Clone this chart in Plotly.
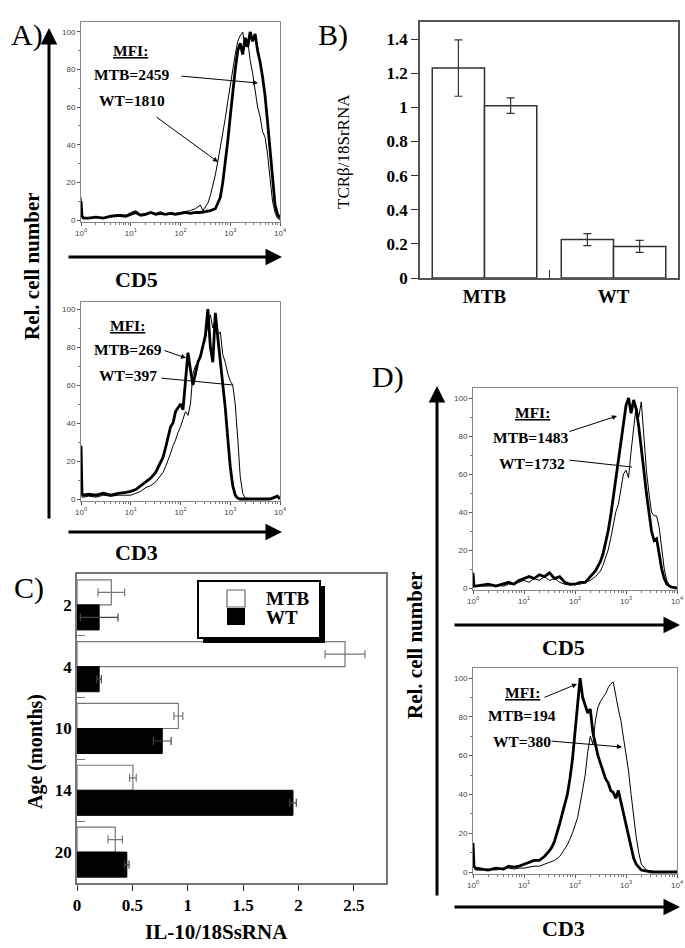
import math
import plotly.graph_objects as go

W, H = 685, 948
SERIF = "Liberation Serif"
SANS = "Liberation Sans"

# ---------------- data ----------------
# Panel A (top): CD5 histograms, x = log10(fluorescence), y = rel. cell number
a_cd5_mtb_x = [0.0, 0.02, 0.05, 0.15, 0.3, 0.45, 0.6, 0.75, 0.9, 1.0, 1.1, 1.2, 1.3, 1.4, 1.5, 1.6, 1.7, 1.8, 1.9, 2.0,
               2.1, 2.2, 2.3, 2.4, 2.5, 2.6, 2.7, 2.8, 2.85, 2.9, 2.95, 3.0, 3.05, 3.1, 3.15, 3.2, 3.25, 3.3, 3.35, 3.4,
               3.45, 3.5, 3.55, 3.6, 3.65, 3.7, 3.75, 3.8, 3.85, 3.9, 3.95, 4.0]
a_cd5_mtb_y = [10, 2, 1, 1, 1.5, 1, 2, 2.5, 2, 3, 4, 2.5, 3, 4, 3, 3.5, 3, 3.5, 3, 3.5,
               4, 3.5, 4, 4, 4.5, 5, 6, 12, 20, 30, 42, 55, 68, 80, 90, 94, 88, 97, 92, 100,
               95, 99, 90, 84, 76, 66, 52, 36, 20, 8, 3, 1]
a_cd5_wt_x = [0.0, 0.02, 0.05, 0.15, 0.3, 0.45, 0.6, 0.75, 0.9, 1.0, 1.1, 1.2, 1.3, 1.4, 1.5, 1.6, 1.7, 1.8, 1.9, 2.0,
              2.1, 2.2, 2.3, 2.4, 2.45, 2.5, 2.55, 2.6, 2.65, 2.7, 2.75, 2.8, 2.85, 2.9, 2.95, 3.0, 3.05, 3.1, 3.15, 3.2,
              3.25, 3.3, 3.35, 3.4, 3.45, 3.5, 3.55, 3.6, 3.65, 3.7, 3.75, 3.8, 3.85, 3.9, 3.95, 4.0]
a_cd5_wt_y = [12, 3, 1, 1, 1.5, 1, 2, 3, 2.5, 4, 5, 3, 3.5, 4, 3.5, 4.5, 3, 4, 3.5, 4,
              4.5, 5, 6, 8, 5, 7, 9, 13, 18, 24, 31, 38, 46, 54, 63, 72, 80, 88, 95, 98,
              100, 92, 96, 85, 78, 70, 60, 55, 47, 44, 35, 22, 10, 4, 1, 0]

# Panel A (bottom): CD3 histograms
a_cd3_mtb_x = [0.0, 0.02, 0.05, 0.15, 0.3, 0.45, 0.6, 0.75, 0.9, 1.0, 1.1, 1.2, 1.3, 1.4, 1.5, 1.6,
               1.65, 1.7, 1.75, 1.8, 1.85, 1.9, 1.95, 2.0, 2.05, 2.1, 2.15, 2.2, 2.25, 2.3, 2.35, 2.4,
               2.45, 2.5, 2.55, 2.6, 2.65, 2.7, 2.75, 2.8, 2.85, 2.9, 2.95, 3.0, 3.05, 3.1, 3.15, 3.2,
               3.4, 3.6, 3.8, 3.9, 3.95, 4.0]
a_cd3_mtb_y = [28, 3, 2, 2.5, 2, 3, 2, 3, 3.5, 4, 5, 7, 9, 11, 14, 19,
               22, 27, 32, 38, 40, 46, 48, 50, 47, 62, 77, 68, 60, 66, 72, 75,
               80, 86, 100, 80, 72, 98, 85, 72, 62, 48, 32, 17, 7, 2, 0.5, 0,
               0, 0, 0, 1, 1.5, 0]
a_cd3_wt_x = [0.0, 0.02, 0.05, 0.15, 0.3, 0.45, 0.6, 0.75, 0.9, 1.0, 1.1, 1.2, 1.3, 1.4, 1.5, 1.6,
              1.65, 1.7, 1.75, 1.8, 1.85, 1.9, 1.95, 2.0, 2.05, 2.1, 2.15, 2.2, 2.25, 2.3, 2.35, 2.4,
              2.45, 2.5, 2.55, 2.6, 2.65, 2.7, 2.75, 2.8, 2.85, 2.9, 2.95, 3.0, 3.05, 3.1, 3.15, 3.2,
              3.25, 3.3, 3.5, 3.8, 3.9, 3.95, 4.0]
a_cd3_wt_y = [5, 1, 1, 1.5, 1, 2, 1.5, 2, 2, 2, 3, 4, 6, 7, 9, 12,
              14, 17, 20, 24, 28, 31, 35, 38, 42, 46, 44, 50, 66, 70, 72, 76,
              80, 84, 92, 97, 90, 94, 86, 88, 76, 72, 66, 62, 60, 50, 32, 12,
              3, 0.5, 0, 0, 1, 1.5, 0]

# Panel D (top): CD5 histograms
d_cd5_mtb_x = [0.0, 0.02, 0.05, 0.15, 0.3, 0.45, 0.6, 0.7, 0.8, 0.9, 1.0, 1.1, 1.2, 1.3, 1.4, 1.5, 1.6, 1.7, 1.8,
               1.9, 2.0, 2.1, 2.2, 2.3, 2.4, 2.5, 2.55, 2.6, 2.65, 2.7, 2.75, 2.8, 2.85, 2.9, 2.95, 3.0, 3.05, 3.1,
               3.15, 3.2, 3.25, 3.3, 3.35, 3.4, 3.45, 3.5, 3.55, 3.6, 3.65, 3.7, 3.75, 3.8, 3.85, 3.9, 4.0]
d_cd5_mtb_y = [8, 1, 1, 1.5, 2, 1, 2, 3, 2, 4, 5, 6, 5, 7, 6, 8, 5, 6, 3,
               2, 2, 3, 3, 6, 9, 14, 18, 24, 30, 38, 48, 58, 68, 78, 88, 96, 100, 92,
               99, 94, 85, 72, 62, 50, 40, 30, 25, 26, 18, 10, 5, 2, 1, 0.5, 0]
d_cd5_wt_x = [0.0, 0.05, 0.15, 0.3, 0.45, 0.6, 0.7, 0.8, 0.9, 1.0, 1.1, 1.2, 1.3, 1.4, 1.5, 1.6, 1.7, 1.8,
              1.9, 2.0, 2.1, 2.2, 2.3, 2.4, 2.5, 2.55, 2.6, 2.65, 2.7, 2.75, 2.8, 2.85, 2.9, 2.95, 3.0, 3.05,
              3.1, 3.15, 3.2, 3.25, 3.3, 3.35, 3.4, 3.45, 3.5, 3.55, 3.6, 3.65, 3.7, 3.75, 3.8, 3.85, 3.9, 4.0]
d_cd5_wt_y = [3, 1, 1, 1, 1.5, 1, 2, 2, 3, 4, 3, 5, 4, 6, 4, 5, 3, 2,
              1.5, 2, 2, 3, 4, 6, 9, 12, 16, 20, 26, 33, 40, 44, 52, 60, 62, 58,
              72, 85, 96, 90, 98, 80, 62, 50, 40, 38, 38, 32, 20, 10, 4, 1.5, 0.5, 0]

# Panel D (bottom): CD3 histograms
d_cd3_mtb_x = [0.0, 0.02, 0.05, 0.15, 0.3, 0.45, 0.6, 0.7, 0.8, 0.9, 1.0, 1.1, 1.2, 1.3, 1.4, 1.5,
               1.55, 1.6, 1.65, 1.7, 1.75, 1.8, 1.85, 1.9, 1.95, 2.0, 2.05, 2.1, 2.15, 2.2, 2.25, 2.3,
               2.35, 2.4, 2.45, 2.5, 2.55, 2.6, 2.65, 2.7, 2.75, 2.8, 2.85, 2.9, 2.95, 3.0, 3.05, 3.1,
               3.15, 3.2, 3.3, 3.5, 4.0]
d_cd3_mtb_y = [15, 3, 2, 1.5, 1, 2, 1.5, 3, 2.5, 3, 4, 5, 6, 6, 8, 11,
               13, 16, 20, 25, 30, 35, 40, 48, 58, 72, 88, 100, 90, 86, 82, 84,
               72, 66, 60, 56, 52, 48, 46, 42, 41, 38, 42, 36, 30, 24, 18, 12,
               7, 4, 1, 0, 0]
d_cd3_wt_x = [0.0, 0.05, 0.15, 0.3, 0.45, 0.6, 0.7, 0.8, 0.9, 1.0, 1.1, 1.2, 1.3, 1.4, 1.5, 1.6, 1.7,
              1.75, 1.8, 1.85, 1.9, 1.95, 2.0, 2.05, 2.1, 2.15, 2.2, 2.25, 2.3, 2.35, 2.4, 2.45, 2.5,
              2.55, 2.6, 2.65, 2.7, 2.75, 2.8, 2.85, 2.9, 2.95, 3.0, 3.05, 3.1, 3.15, 3.2, 3.25, 3.3,
              3.4, 3.6, 4.0]
d_cd3_wt_y = [3, 1, 1, 1.5, 1, 2, 2, 1.5, 2, 2, 2.5, 3, 3, 4, 5, 6, 8,
              10, 12, 14, 17, 20, 24, 28, 35, 42, 50, 62, 70, 66, 78, 85, 88,
              90, 92, 95, 97, 98, 90, 84, 78, 70, 62, 52, 40, 28, 18, 10, 4,
              1, 0, 0]

# Panel B: TCRbeta / 18S rRNA
b_groups = ["MTB", "WT"]
b_bar1 = [1.23, 0.225]
b_bar1_err = [0.165, 0.035]
b_bar2 = [1.01, 0.185]
b_bar2_err = [0.045, 0.035]

# Panel C: IL-10 / 18S rRNA by age
c_ages = ["2", "4", "10", "14", "20"]
c_series = ["MTB", "WT"]
c_mtb = [0.31, 2.42, 0.915, 0.505, 0.345]
c_mtb_err = [0.12, 0.18, 0.04, 0.03, 0.065]
c_wt = [0.20, 0.20, 0.77, 1.95, 0.45]
c_wt_err = [0.17, 0.02, 0.08, 0.03, 0.02]

dec_vals = [0, 1, 2, 3, 4]
dec_labels = ["10<sup>0</sup>", "10<sup>1</sup>", "10<sup>2</sup>", "10<sup>3</sup>", "10<sup>4</sup>"]
hist_yticks = [0, 20, 40, 60, 80, 100]
b_yticks = [0, 0.2, 0.4, 0.6, 0.8, 1.0, 1.2, 1.4]
b_yticklabels = ["0", "0.2", "0.4", "0.6", "0.8", "1", "1.2", "1.4"]
c_xticks = [0, 0.5, 1.0, 1.5, 2.0, 2.5]
c_xticklabels = ["0", "0.5", "1", "1.5", "2", "2.5"]


# ---------------- helpers ----------------
def dx(a, b):
    return [a / W, b / W]


def dy(top, bottom):
    return [1 - bottom / H, 1 - top / H]


def fx(p):
    return p / W


def fy(p):
    return 1 - p / H


minor_log = [d + math.log10(k) for d in range(4) for k in range(2, 10)]

fig = go.Figure()

hists = [
    (1, a_cd5_mtb_x, a_cd5_mtb_y, a_cd5_wt_x, a_cd5_wt_y),
    (2, a_cd3_mtb_x, a_cd3_mtb_y, a_cd3_wt_x, a_cd3_wt_y),
    (5, d_cd5_mtb_x, d_cd5_mtb_y, d_cd5_wt_x, d_cd5_wt_y),
    (6, d_cd3_mtb_x, d_cd3_mtb_y, d_cd3_wt_x, d_cd3_wt_y),
]
for n, mx, my, wx, wy in hists:
    s = "" if n == 1 else str(n)
    fig.add_trace(go.Scatter(x=wx, y=wy, mode="lines", line=dict(color="black", width=1),
                             xaxis="x" + s, yaxis="y" + s, showlegend=False, hoverinfo="skip"))
    fig.add_trace(go.Scatter(x=mx, y=my, mode="lines", line=dict(color="black", width=2.8),
                             xaxis="x" + s, yaxis="y" + s, showlegend=False, hoverinfo="skip"))

# Panel B bars
fig.add_trace(go.Bar(x=b_groups, y=b_bar1, xaxis="x3", yaxis="y3", showlegend=False,
                     marker=dict(color="white", line=dict(color="#333", width=1.5)),
                     error_y=dict(type="data", array=b_bar1_err, color="#333", thickness=1.2, width=4)))
fig.add_trace(go.Bar(x=b_groups, y=b_bar2, xaxis="x3", yaxis="y3", showlegend=False,
                     marker=dict(color="white", line=dict(color="#333", width=1.5)),
                     error_y=dict(type="data", array=b_bar2_err, color="#333", thickness=1.2, width=4)))

# Panel C bars
fig.add_trace(go.Bar(y=c_ages, x=c_mtb, orientation="h", xaxis="x4", yaxis="y4", name=c_series[0],
                     showlegend=False,
                     marker=dict(color="white", line=dict(color="#777", width=1.2)),
                     error_x=dict(type="data", array=c_mtb_err, color="#777", thickness=1.2, width=4)))
fig.add_trace(go.Bar(y=c_ages, x=c_wt, orientation="h", xaxis="x4", yaxis="y4", name=c_series[1],
                     showlegend=False,
                     marker=dict(color="black", line=dict(color="black", width=1)),
                     error_x=dict(type="data", array=c_wt_err, color="#444", thickness=1.2, width=4)))

tickfont_small = dict(family=SANS, size=8, color="#444")


def hist_x(dom, anchor):
    return dict(domain=dom, anchor=anchor, range=[0, 4], tickvals=dec_vals, ticktext=dec_labels,
                ticks="outside", ticklen=3, tickcolor="#555", showline=True, linecolor="#888",
                linewidth=1, mirror=True, showgrid=False, zeroline=False, tickfont=tickfont_small,
                automargin=False,
                minor=dict(tickvals=minor_log, ticks="outside", ticklen=2, tickcolor="#777"))


def hist_y(dom, anchor, rng):
    return dict(domain=dom, anchor=anchor, range=rng, tickvals=hist_yticks, ticks="outside",
                ticklen=3, tickcolor="#555", showline=True, linecolor="#888", linewidth=1,
                mirror=True, showgrid=False, zeroline=False, tickfont=tickfont_small,
                automargin=False,
                minor=dict(dtick=10, ticks="outside", ticklen=2, tickcolor="#777"))


def bold_serif(s):
    return dict(family=SERIF, size=s, color="black", weight="bold")


fig.update_layout(
    width=W, height=H, margin=dict(l=0, r=0, t=0, b=0, autoexpand=False),
    paper_bgcolor="white", plot_bgcolor="white", showlegend=False,
    barmode="group", bargap=0.19, bargroupgap=0,
    xaxis=hist_x(dx(81, 280), "y"),
    yaxis=hist_y(dy(22, 222), "x", [-1.06, 105.3]),
    xaxis2=hist_x(dx(81, 280), "y2"),
    yaxis2=hist_y(dy(302, 501), "x2", [-1.05, 103.7]),
    xaxis5=hist_x(dx(473, 677), "y5"),
    yaxis5=hist_y(dy(388, 590), "x5", [-1.05, 105.3]),
    xaxis6=hist_x(dx(473, 677), "y6"),
    yaxis6=hist_y(dy(668, 874), "x6", [-1.03, 105.2]),
    xaxis3=dict(domain=dx(420, 678), anchor="y3", type="category", range=[-0.5, 1.5],
                tickson="boundaries", ticks="inside", ticklen=8, tickcolor="#333",
                showline=True, linecolor="#555", linewidth=1.5, mirror=True, showgrid=False,
                automargin=False, tickfont=bold_serif(19)),
    yaxis3=dict(domain=dy(22, 278), anchor="x3", range=[0, 1.5], tickvals=b_yticks,
                ticktext=b_yticklabels, ticks="outside", ticklen=7, tickcolor="#333",
                showline=True, linecolor="#555", linewidth=1.5, mirror=True, showgrid=False,
                automargin=False, zeroline=False, tickfont=bold_serif(17)),
    xaxis4=dict(domain=dx(77, 386), anchor="y4", range=[0, 2.79], tickvals=c_xticks,
                ticktext=c_xticklabels, ticks="outside", ticklen=6, tickcolor="#333",
                showline=True, linecolor="#777", linewidth=1.5, mirror=True, showgrid=False,
                automargin=False, zeroline=False, tickfont=bold_serif(17)),
    yaxis4=dict(domain=dy(574, 883), anchor="x4", type="category", categoryorder="array",
                categoryarray=c_ages, range=[4.5, -0.5], tickson="boundaries", ticks="inside",
                ticklen=8, tickcolor="#777", showline=True, linecolor="#777", linewidth=1.5,
                mirror=True, showgrid=False, automargin=False, tickfont=bold_serif(17)),
)


def prect(x0, y0, x1, y1, fill, line_color=None, lw=0):
    return dict(type="rect", xref="paper", yref="paper", x0=fx(x0), x1=fx(x1), y0=fy(y1), y1=fy(y0),
                fillcolor=fill, line=dict(width=lw, color=line_color or fill), layer="above")


shapes = [
    # legend of panel C: shadow, box, swatches
    prect(203, 586, 325, 643, "black"),
    prect(198, 581, 320, 638, "white", "black", 2),
    prect(227, 590, 245, 607, "white", "#666", 1.2),
    prect(227, 608, 245, 625, "black"),
]
fig.update_layout(shapes=shapes)

ann = []


def text(x, y, s, size, bold=True, angle=0, family=SERIF, anchor="center"):
    f = dict(family=family, size=size, color="black")
    if bold:
        f["weight"] = "bold"
    ann.append(dict(x=fx(x), y=fy(y), xref="paper", yref="paper", text=s, showarrow=False,
                    font=f, textangle=angle, xanchor=anchor, yanchor="middle"))


def arrow(x0, y0, x1, y1, width=1.0, head=2, size=1.0):
    ann.append(dict(x=fx(x1), y=fy(y1), xref="paper", yref="paper", ax=x0 - x1, ay=y0 - y1,
                    axref="pixel", ayref="pixel", text="", showarrow=True, arrowhead=head,
                    arrowwidth=width, arrowsize=size, arrowcolor="black", standoff=0,
                    startstandoff=0))


# panel letters
text(27, 35, "A)", 30, bold=False)
text(333, 35, "B)", 30, bold=False)
text(29, 588, "C)", 30, bold=False)
text(388, 377, "D)", 30, bold=False)

# panel A axis arrows & labels
arrow(49, 520, 49, 28, width=3, head=2, size=1.1)
arrow(67, 257, 282, 257, width=3, head=2, size=1.1)
arrow(67, 532, 282, 532, width=3, head=2, size=1.1)
text(32, 266, "Rel. cell number", 21, angle=-90)
text(136, 280, "CD5", 22)
text(136, 552, "CD3", 22)

# panel D axis arrows & labels
arrow(437, 897, 437, 386, width=3, head=2, size=1.1)
arrow(453, 625, 680, 625, width=3, head=2, size=1.1)
arrow(453, 907, 680, 907, width=3, head=2, size=1.1)
text(415, 645, "Rel. cell number", 21, angle=-90)
text(563, 647, "CD5", 22)
text(563, 928, "CD3", 22)

# MFI annotations
text(130, 51, "<u>MFI:</u>", 15.5)
text(131, 75, "MTB=2459", 15.5)
text(132, 101, "WT=1810", 15.5)
arrow(180, 76, 258, 83, width=1, head=2, size=1)
arrow(155, 116, 218, 162, width=1, head=2, size=1)

text(128, 325, "<u>MFI:</u>", 15.5)
text(128, 349, "MTB=269", 15.5)
text(128, 375, "WT=397", 15.5)
arrow(163, 350, 186, 358, width=1, head=2, size=1)
arrow(160, 378, 233, 385, width=1, head=0, size=1)

text(532, 413, "<u>MFI:</u>", 15.5)
text(530, 437, "MTB=1483", 15.5)
text(532, 463, "WT=1732", 15.5)
arrow(568, 432, 617, 416, width=1, head=2, size=1)
arrow(568, 460, 632, 467, width=1, head=0, size=1)

text(522, 692, "<u>MFI:</u>", 15.5)
text(522, 715, "MTB=194", 15.5)
text(522, 741, "WT=380", 15.5)
arrow(543, 698, 577, 684, width=1, head=2, size=1)
arrow(550, 741, 622, 747, width=1, head=2, size=1)

# panel C legend texts
text(264, 598, c_series[0], 19, anchor="left")
text(264, 617, c_series[1], 19, anchor="left")

# panel B / C axis titles
text(343, 152, "TCRβ/18SrRNA", 17, bold=False, angle=-90)
text(35, 752, "Age (months)", 20, angle=-90)
text(216, 932, "IL-10/18SsRNA", 21)

fig.update_layout(annotations=ann)
fig.write_html("out.html", config={"displayModeBar": False},
               post_script="document.body.style.margin='0';document.body.style.padding='0';"
                           "document.documentElement.style.overflow='hidden';")
